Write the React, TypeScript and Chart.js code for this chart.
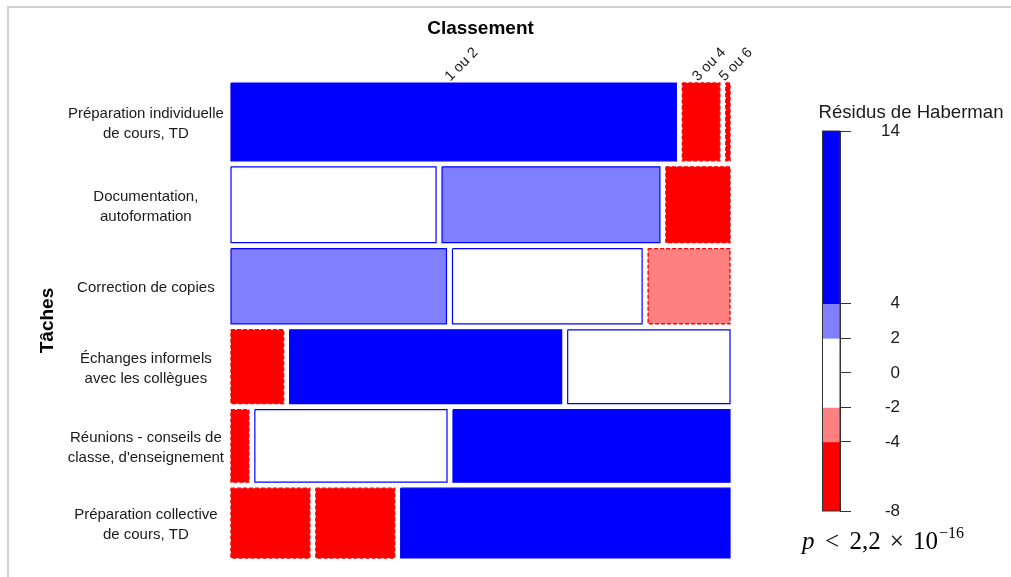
import React, { useEffect, useRef } from "react";
import { Chart, registerables } from "chart.js";

Chart.register(...registerables);

// ---------- data ----------
const taskLabels: string[][] = [
  ["Préparation individuelle", "de cours, TD"],
  ["Documentation,", "autoformation"],
  ["Correction de copies"],
  ["Échanges informels", "avec les collègues"],
  ["Réunions - conseils de", "classe, d'enseignement"],
  ["Préparation collective", "de cours, TD"],
];
const rankLabels = ["1 ou 2", "3 ou 4", "5 ou 6"];
// counts (per task) for each rank class
const rank12 = [107, 48, 50, 12, 4, 17];
const rank34 = [9, 51, 44, 62, 43, 17];
const rank56 = [1, 15, 19, 37, 62, 71];

const legendBreaks = [14, 4, 2, -2, -4, -8];
const legendColors = ["#0000FF", "#8080FF", "#FFFFFF", "#FF8080", "#FF0000"];
const legendTicks = [14, 4, 2, 0, -2, -4, -8];
const legendTitle = "Résidus de Haberman";
const xTitle = "Classement";
const yTitle = "Tâches";

// ---------- derived ----------
const FONT = "'Liberation Sans', Arial, Helvetica, sans-serif";
const GX = 6 / 487;
const GY = 6 / 445;

const table = taskLabels.map((_, i) => [rank12[i], rank34[i], rank56[i]]);
const rowTot = table.map((r) => r.reduce((a, b) => a + b, 0));
const colTot = [0, 1, 2].map((j) => table.reduce((a, r) => a + r[j], 0));
const N = rowTot.reduce((a, b) => a + b, 0);
const resid = table.map((r, i) =>
  r.map((o, j) => {
    const e = (rowTot[i] * colTot[j]) / N;
    return (o - e) / Math.sqrt(e * (1 - rowTot[i] / N) * (1 - colTot[j] / N));
  })
);

function fillFor(r: number) {
  if (r > legendBreaks[1]) return legendColors[0];
  if (r > legendBreaks[2]) return legendColors[1];
  if (r >= legendBreaks[3]) return legendColors[2];
  if (r >= legendBreaks[4]) return legendColors[3];
  return legendColors[4];
}

type Tile = { x0: number; x1: number; y0: number; y1: number; r: number };
const tiles: Tile[] = [];
const rowCenters: number[] = [];
const colTicks: number[] = [];
{
  let yc = 0;
  table.forEach((row, i) => {
    const h = rowTot[i] / N;
    let xc = 0;
    row.forEach((o, j) => {
      const w = o / rowTot[i];
      tiles.push({ x0: xc, x1: xc + w, y0: yc, y1: yc + h, r: resid[i][j] });
      if (i === 0) colTicks.push(xc + w / 2);
      xc += w + GX;
    });
    rowCenters.push(yc + h / 2);
    yc += h + GY;
  });
}

export default function App() {
  const mainRef = useRef<HTMLCanvasElement>(null);
  const legRef = useRef<HTMLCanvasElement>(null);

  useEffect(() => {
    Chart.defaults.font.family = FONT;

    const datasets: any[] = tiles.map((t) => {
      const neg = t.r < 0;
      return {
        data: [
          { x: t.x0, y: t.y0 },
          { x: t.x1, y: t.y0 },
          { x: t.x1, y: t.y1 },
          { x: t.x0, y: t.y1 },
          { x: t.x0, y: t.y0 },
        ],
        showLine: true,
        fill: "shape",
        backgroundColor: fillFor(t.r),
        borderColor: neg ? "#FF0000" : "#0000FF",
        borderWidth: neg ? 1.4 : 1.2,
        borderDash: neg ? [4, 2] : [],
        borderJoinStyle: "miter",
        pointRadius: 0,
        pointHoverRadius: 0,
        tension: 0,
        clip: false,
      };
    });

    const c1 = new Chart(mainRef.current!, {
      type: "scatter",
      data: { datasets },
      options: {
        animation: false,
        responsive: false,
        events: [],
        layout: { padding: { left: 36, right: 281, top: 8, bottom: 19 } },
        plugins: { legend: { display: false }, tooltip: { enabled: false } },
        scales: {
          x: {
            type: "linear",
            position: "top",
            min: 0,
            max: 1 + 2 * GX,
            grid: { display: false, drawTicks: false },
            border: { display: false },
            afterBuildTicks: (s: any) => {
              s.ticks = colTicks.map((v) => ({ value: v }));
            },
            afterFit: (s: any) => {
              s.height = 75;
              s.paddingLeft = 0;
              s.paddingRight = 0;
              s.paddingTop = 0;
              s.paddingBottom = 0;
            },
            ticks: {
              autoSkip: false,
              minRotation: 45,
              maxRotation: 45,
              padding: -2,
              labelOffset: 6,
              color: "#1a1a1a",
              font: { size: 14.5 },
              callback: (_v: any, i: number) => rankLabels[i],
            },
            title: {
              display: true,
              text: xTitle,
              color: "#000",
              font: { size: 19, weight: "bold" },
              padding: { top: 9, bottom: 0 },
            },
          },
          y: {
            type: "linear",
            reverse: true,
            min: 0,
            max: 1 + 5 * GY,
            grid: { display: false, drawTicks: false },
            border: { display: false },
            afterBuildTicks: (s: any) => {
              s.ticks = rowCenters.map((v) => ({ value: v }));
            },
            afterFit: (s: any) => {
              s.width = 195;
              s.paddingTop = 0;
              s.paddingBottom = 0;
              s.paddingLeft = 0;
              s.paddingRight = 0;
            },
            ticks: {
              autoSkip: false,
              crossAlign: "center",
              padding: 7,
              labelOffset: 2,
              color: "#1a1a1a",
              font: { size: 15, lineHeight: 1.3333 },
              callback: (_v: any, i: number) => taskLabels[i],
            },
            title: {
              display: true,
              text: yTitle,
              color: "#000",
              font: { size: 19, weight: "bold" },
              padding: { top: 0, bottom: 0 },
            },
          },
        },
      } as any,
    });

    const bands = legendColors.map((col, k) => ({
      lo: legendBreaks[k + 1],
      hi: legendBreaks[k],
      col,
    }));

    const legendDecor = {
      id: "legendDecor",
      afterDatasetsDraw(chart: any) {
        const { ctx, chartArea } = chart;
        ctx.save();
        ctx.strokeStyle = "#333";
        ctx.lineWidth = 1;
        ctx.strokeRect(
          chartArea.left + 0.5,
          chartArea.top,
          chartArea.right - chartArea.left - 0.5,
          chartArea.bottom - chartArea.top
        );
        ctx.fillStyle = "#1a1a1a";
        ctx.font = `18.6px ${FONT}`;
        ctx.textAlign = "center";
        ctx.textBaseline = "alphabetic";
        ctx.fillText(legendTitle, chartArea.left + 89, chartArea.top - 13);
        ctx.restore();
      },
    };

    const c2 = new Chart(legRef.current!, {
      type: "bar",
      data: {
        labels: ["r"],
        datasets: bands.map((b) => ({
          data: [[b.lo, b.hi]],
          backgroundColor: b.col,
          borderWidth: 0,
          barPercentage: 1,
          categoryPercentage: 1,
          grouped: false,
        })),
      } as any,
      options: {
        animation: false,
        responsive: false,
        events: [],
        layout: { padding: { left: 42, right: 111, top: 41, bottom: 66 } },
        plugins: { legend: { display: false }, tooltip: { enabled: false } },
        scales: {
          x: { type: "category", display: false },
          y: {
            type: "linear",
            position: "right",
            min: legendBreaks[legendBreaks.length - 1],
            max: legendBreaks[0],
            afterBuildTicks: (s: any) => {
              s.ticks = legendTicks.map((v) => ({ value: v }));
            },
            afterFit: (s: any) => {
              s.width = 60;
            },
            grid: {
              display: true,
              drawOnChartArea: false,
              drawTicks: true,
              tickLength: 11,
              color: "#333",
            },
            border: { display: true, color: "#333" },
            ticks: {
              autoSkip: false,
              crossAlign: "far",
              color: "#1a1a1a",
              font: { size: 17 },
            },
          },
        },
      } as any,
      plugins: [legendDecor],
    });

    return () => {
      c1.destroy();
      c2.destroy();
    };
  }, []);

  return (
    <div
      style={{
        position: "fixed",
        left: 0,
        top: 0,
        width: 1011,
        height: 577,
        background: "#fff",
        overflow: "hidden",
      }}
    >
      <div
        style={{
          position: "absolute",
          left: 7,
          top: 6,
          right: 0,
          bottom: 0,
          borderTop: "2px solid #d0d0d0",
          borderLeft: "2px solid #d0d0d0",
        }}
      />
      <canvas
        ref={mainRef}
        width={1011}
        height={577}
        style={{ position: "absolute", left: 0, top: 0, width: 1011, height: 577 }}
      />
      <canvas
        ref={legRef}
        width={231}
        height={487}
        style={{ position: "absolute", left: 780, top: 90, width: 231, height: 487 }}
      />
      <div
        style={{
          position: "absolute",
          left: 802,
          top: 527,
          font: "25px 'Liberation Serif', 'Times New Roman', serif",
          color: "#000",
          whiteSpace: "nowrap",
          lineHeight: "28px",
        }}
      >
        <i>p</i>
        <span style={{ margin: "0 0.42em" }}>&lt;</span>
        2,2
        <span style={{ margin: "0 0.36em" }}>×</span>
        10
        <span style={{ fontSize: 16, position: "relative", top: -11, marginLeft: 1 }}>−16</span>
      </div>
    </div>
  );
}
